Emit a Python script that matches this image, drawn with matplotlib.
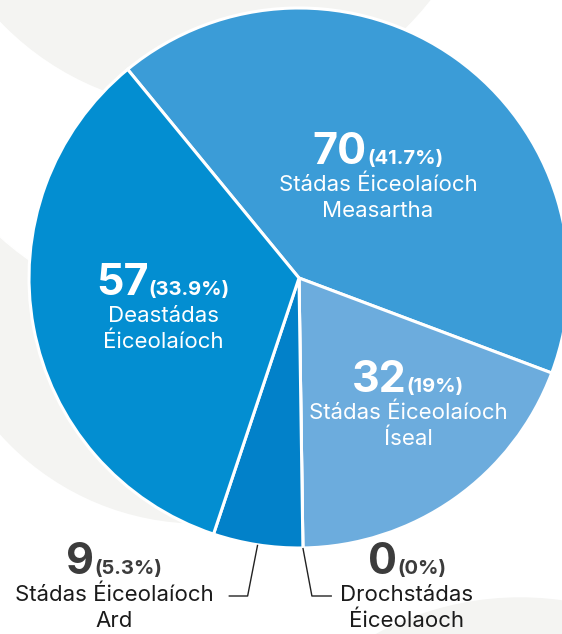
import numpy as np
import matplotlib
matplotlib.use("Agg")
import matplotlib.pyplot as plt
from matplotlib.patches import Circle

# data
labels = [["Stádas Éiceolaíoch", "Measartha"],
          ["Stádas Éiceolaíoch", "Íseal"],
          ["Drochstádas", "Éiceolaoch"],
          ["Stádas Éiceolaíoch", "Ard"],
          ["Deastádas", "Éiceolaíoch"]]
counts = [70, 32, 0, 9, 57]
pct_labels = ["(41.7%)", "(19%)", "(0%)", "(5.3%)", "(33.9%)"]
colors = ["#3b9cd7", "#6cacdd", "#a9d0ee", "#0281c9", "#038ed1"]

W, H = 562, 634
plt.rcParams["font.family"] = ["Inter", "DejaVu Sans"]

fig = plt.figure(figsize=(W / 100, H / 100), dpi=100)
ax = fig.add_axes([0, 0, 1, 1])


def up(y):
    # image row -> axis y
    return H - y


# light decorative background shapes
bg = "#f4f4f2"
ax.add_patch(Circle((200, up(255)), 268, color=bg, zorder=0))
ax.add_patch(Circle((201, up(14)), 300, color="white", zorder=0.1))
ax.add_patch(Circle((206, up(-175)), 284, color=bg, zorder=0.2))
ax.add_patch(Circle((520, up(900)), 302, color=bg, zorder=0.2))

cx, cy, r = 299, up(278), 270
wedges, _ = ax.pie(counts, colors=colors, startangle=129.4, counterclock=False,
                   center=(cx, cy), radius=r,
                   wedgeprops=dict(edgecolor="white", linewidth=2.2))
for w in wedges:
    w.set_zorder(2)

ax.set_xlim(0, W)
ax.set_ylim(0, H)
ax.set_aspect("auto")
ax.axis("off")

renderer = fig.canvas.get_renderer()


def place_label(x, y, idx, dark):
    num_col = "#3c3c3c" if dark else "white"
    txt_col = "#1b1b1b" if dark else "white"
    t1 = ax.text(0, 0, str(counts[idx]), fontsize=31, fontweight="bold",
                 color=num_col, ha="left", va="baseline", zorder=5)
    t2 = ax.text(0, 0, pct_labels[idx], fontsize=14.5, fontweight="bold",
                 color=num_col, ha="left", va="baseline", zorder=5)
    w1 = t1.get_window_extent(renderer).width
    w2 = t2.get_window_extent(renderer).width
    x0 = x - (w1 + w2) / 2
    t1.set_position((x0, up(y)))
    t2.set_position((x0 + w1, up(y)))
    for k, line in enumerate(labels[idx]):
        ax.text(x, up(y + 27 + 26 * k), line, fontsize=16, color=txt_col,
                ha="center", va="baseline", zorder=5)


place_label(378, 164, 0, False)
place_label(408, 392, 1, False)
place_label(163, 295, 4, False)
place_label(114, 574, 3, True)
place_label(407, 574, 2, True)

# leader lines for the small slices
for idx, dx_elbow, dx_end in [(3, -10, -29), (2, 9, 29)]:
    w = wedges[idx]
    ang = np.deg2rad((w.theta1 + w.theta2) / 2)
    x0 = cx + r * np.cos(ang)
    y0 = cy + r * np.sin(ang)
    ax.plot([x0, x0 + dx_elbow, x0 + dx_end], [y0, up(596), up(596)],
            color="#222222", lw=1.0, zorder=4, solid_capstyle="butt")

fig.savefig("out.png", dpi=100)
